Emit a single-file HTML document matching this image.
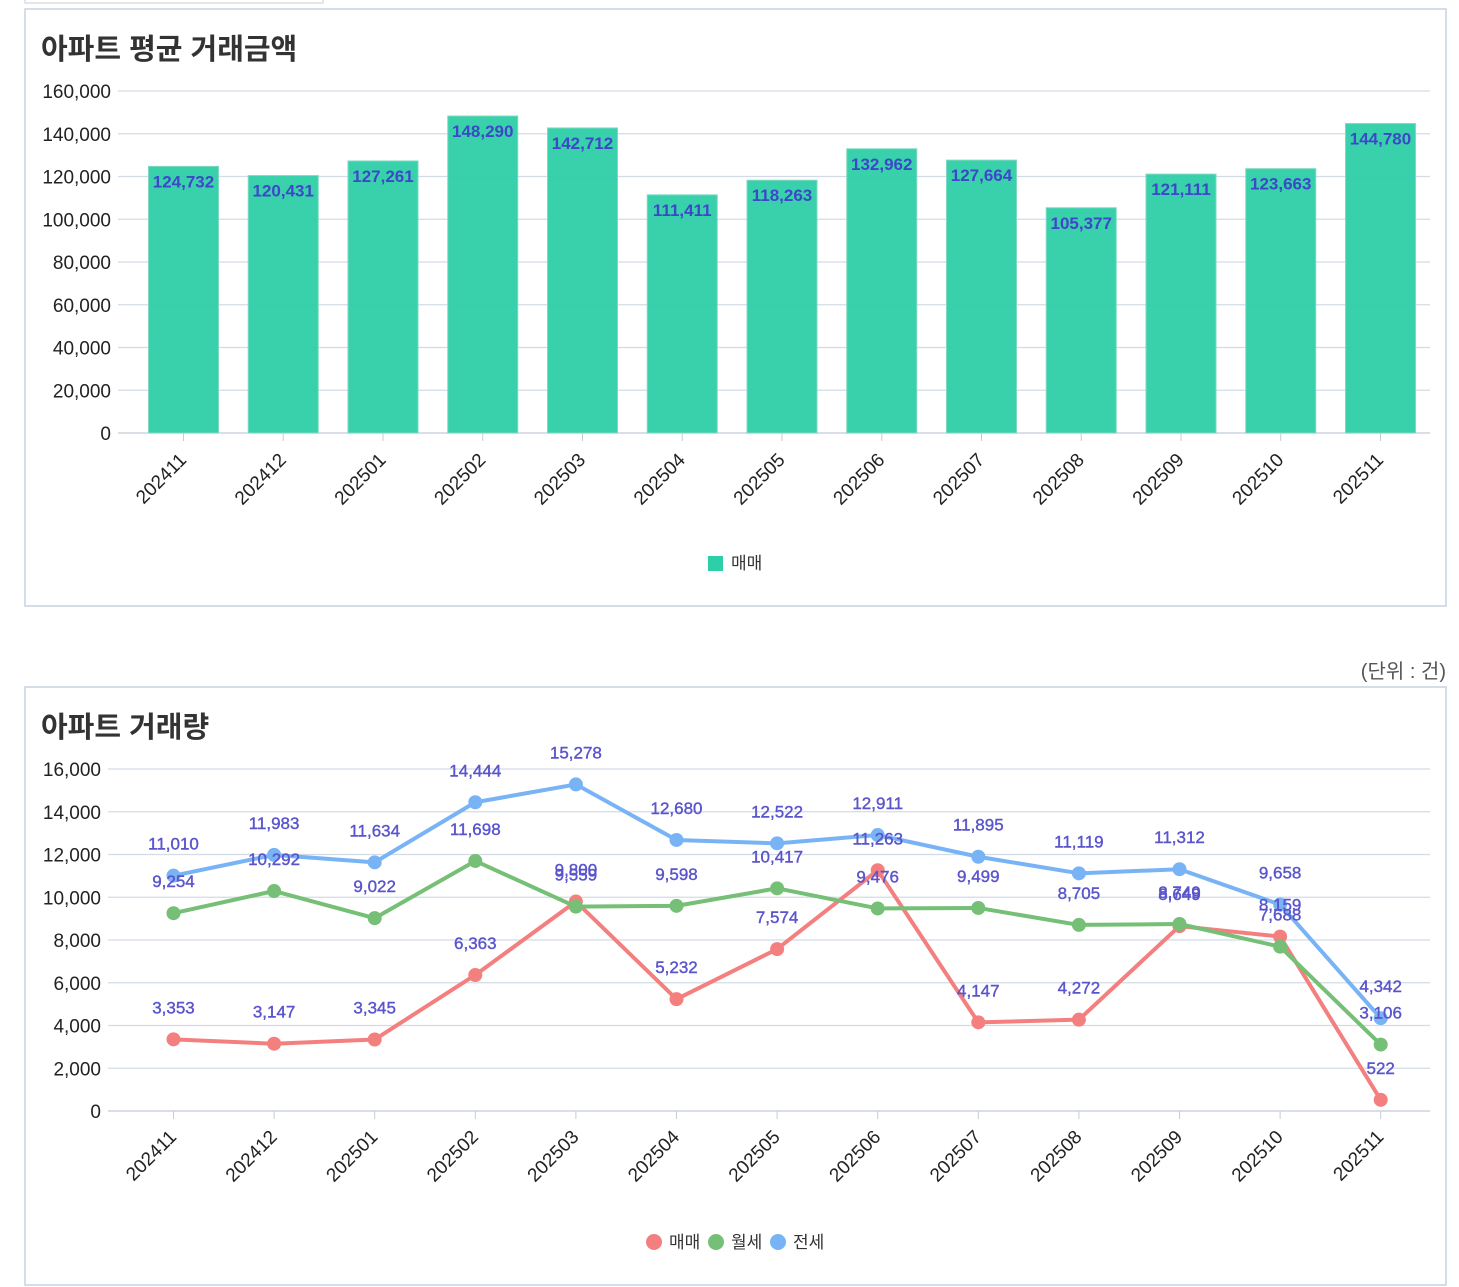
<!DOCTYPE html>
<html><head><meta charset="utf-8">
<style>
body{margin:0;width:1459px;height:1287px;background:#fff;overflow:hidden;font-family:"Liberation Sans","Noto Sans CJK KR",sans-serif;}
svg{position:absolute;left:0;top:0}
</style></head>
<body>
<svg id="s" width="1459" height="1287">
<rect x="25" y="-10" width="298" height="13" fill="#fff" stroke="#c8ccd2"/>
<rect x="25" y="9" width="1421" height="597" fill="#fff" stroke="#c5d3e3" stroke-width="1.5"/>
<text x="41" y="59" font-size="29" font-weight="bold" fill="#333" font-family="Liberation Sans,Noto Sans CJK KR,sans-serif">아파트 평균 거래금액</text>
<text x="1446" y="678" font-size="20" fill="#555" text-anchor="end" font-family="Liberation Sans,Noto Sans CJK KR,sans-serif">(단위 : 건)</text>
<rect x="25" y="687" width="1421" height="598" fill="#fff" stroke="#c5d3e3" stroke-width="1.5"/>
<text x="41" y="737" font-size="29" font-weight="bold" fill="#333" font-family="Liberation Sans,Noto Sans CJK KR,sans-serif">아파트 거래량</text>
<g id="c1"></g><g id="c2"></g>
<g><rect x="708" y="556" width="15" height="15" fill="#2ecfa8"/><text x="731" y="569" font-size="17" fill="#333" font-family="Liberation Sans,Noto Sans CJK KR,sans-serif">매매</text></g>
<g>
<circle cx="654" cy="1242" r="8" fill="#f47f7f"/><text x="669" y="1248" font-size="17" fill="#333" font-family="Liberation Sans,Noto Sans CJK KR,sans-serif">매매</text>
<circle cx="716" cy="1242" r="8" fill="#76bf76"/><text x="731" y="1248" font-size="17" fill="#333" font-family="Liberation Sans,Noto Sans CJK KR,sans-serif">월세</text>
<circle cx="778" cy="1242" r="8" fill="#78b4f5"/><text x="793" y="1248" font-size="17" fill="#333" font-family="Liberation Sans,Noto Sans CJK KR,sans-serif">전세</text>
</g>
</svg>
<script>
const months=["202411","202412","202501","202502","202503","202504","202505","202506","202507","202508","202509","202510","202511"];
const priceValues=[124732,120431,127261,148290,142712,111411,118263,132962,127664,105377,121111,123663,144780];
const priceTicks=[0,20000,40000,60000,80000,100000,120000,140000,160000];
const saleCounts=[3353,3147,3345,6363,9800,5232,7574,11263,4147,4272,8649,8159,522];
const monthlyRentCounts=[9254,10292,9022,11698,9559,9598,10417,9476,9499,8705,8749,7688,3106];
const jeonseCounts=[11010,11983,11634,14444,15278,12680,12522,12911,11895,11119,11312,9658,4342];
const volumeTicks=[0,2000,4000,6000,8000,10000,12000,14000,16000];
const NS="http://www.w3.org/2000/svg";
function mk(p,t,a,txt){const e=document.createElementNS(NS,t);for(const k in a)e.setAttribute(k,a[k]);if(txt!==undefined)e.textContent=txt;p.appendChild(e);return e;}
const fmt=v=>v.toLocaleString("en-US");
// chart 1
const c1=document.getElementById("c1");
const y1=v=>433-v/160000*342;
const x1=i=>183.5+i*99.75;
priceTicks.forEach(t=>{
 const l=mk(c1,"line",{x1:118,x2:1430,y1:y1(t),y2:y1(t),stroke:t?"#d3dbe6":"#c4ccd6","stroke-width":1.2});
 
 
 const tx=mk(c1,"text",{x:111,y:y1(t)+7,"font-size":19,"text-anchor":"end",fill:"#222"},fmt(t));
 
 
});
priceValues.forEach((v,i)=>{
 const r=mk(c1,"rect",{x:x1(i)-35,y:y1(v),width:70,height:433-y1(v),fill:"#2ecfa8","fill-opacity":0.95,stroke:"#7fd9c0"});
 
 
 const t=mk(c1,"text",{x:x1(i),y:y1(v)+21,"font-size":17,"font-weight":"bold","text-anchor":"middle",fill:"#3d48c8"},fmt(v));
 
 
 mk(c1,"line",{x1:x1(i),x2:x1(i),y1:433,y2:441,stroke:"#c4ccd6"});
 const m=mk(c1,"text",{x:x1(i)+4,y:461,"font-size":19,"text-anchor":"end",fill:"#222",transform:`rotate(-45 ${x1(i)+4} 461)`},months[i]);
 
 
});
// chart 2
const c2=document.getElementById("c2");
const y2=v=>1111-v/16000*342;
const x2=i=>173.5+i*100.6;
volumeTicks.forEach(t=>{
 const l=mk(c2,"line",{x1:108,x2:1430,y1:y2(t),y2:y2(t),stroke:t?"#d3dbe6":"#c4ccd6","stroke-width":1.2});
 
 
 const tx=mk(c2,"text",{x:101,y:y2(t)+7,"font-size":19,"text-anchor":"end",fill:"#222"},fmt(t));
 
 
});
months.forEach((m,i)=>{
 mk(c2,"line",{x1:x2(i),x2:x2(i),y1:1111,y2:1119,stroke:"#c4ccd6"});
 const t=mk(c2,"text",{x:x2(i)+4,y:1138,"font-size":19,"text-anchor":"end",fill:"#222",transform:`rotate(-45 ${x2(i)+4} 1138)`},m);
 
 
});
[[saleCounts,"#f47f7f","sale"],[monthlyRentCounts,"#76bf76","monthly-rent"],[jeonseCounts,"#78b4f5","jeonse"]].forEach(([d,c,n])=>{
 const p=mk(c2,"polyline",{points:d.map((v,i)=>x2(i)+","+y2(v)).join(" "),fill:"none",stroke:c,"stroke-width":4,"stroke-linejoin":"round"});
 
 
 d.forEach((v,i)=>{
  const ci=mk(c2,"circle",{cx:x2(i),cy:y2(v),r:7,fill:c});
  
  
 });
});
[saleCounts,monthlyRentCounts,jeonseCounts].forEach(d=>{
 d.forEach((v,i)=>{
  const t=mk(c2,"text",{x:x2(i),y:y2(v)-26,"font-size":17,"text-anchor":"middle",fill:"#5a55cc",stroke:"#5a55cc","stroke-width":0.4},fmt(v));
  
  
 });
});
</script>
</body></html>
